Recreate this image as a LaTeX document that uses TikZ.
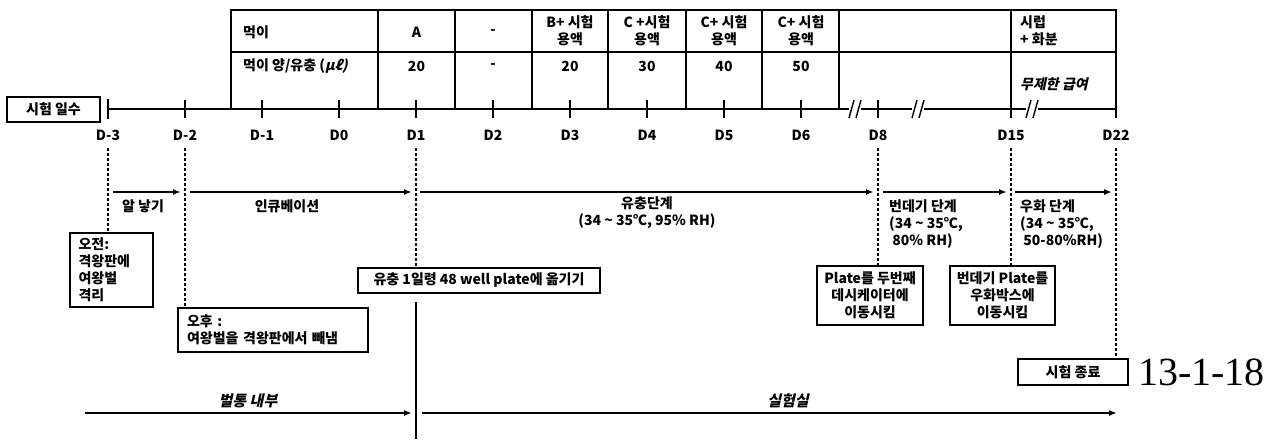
\documentclass[tikz,border=0pt]{standalone}
\usepackage{fontspec}
\setmainfont{Noto Sans CJK KR}
\newfontfamily\kit{Noto Sans CJK KR}[FakeSlant=0.22]
\newfontfamily\numfont{Liberation Serif}
\usetikzlibrary{arrows.meta}
\newcommand\kf{\bfseries\fontsize{14}{17}\selectfont}
\tikzset{
  ln/.style={line width=1.6pt},
  dsh/.style={line width=1.3pt, dash pattern=on 3pt off 2pt},
  arr/.style={line width=1.6pt, -{Latex[length=8pt,width=6pt]}},
  box/.style={draw, line width=1.6pt, inner sep=3pt, font=\kf},
  txt/.style={inner sep=0pt, font=\kf},
  tk/.style={line width=1.6pt},
}
\begin{document}
\begin{tikzpicture}[x=1pt,y=-1pt]
\useasboundingbox (0,0) rectangle (1281,439);
\fill[white] (0,0) rectangle (1281,439);
% timeline coordinates
\foreach \n/\x in {m3/108,m2/185,m1/262,d0/339,d1/416,d2/493,d3/570,d4/647,d5/724,d6/801,d8/878,d15/1011,d22/1116}{
  \coordinate (t\n) at (\x,109);
  \coordinate (u\n) at (\x,148);
  \coordinate (p\n) at (\x,135);
}
% table
\draw[ln] (231,109) -- (231,10) -- (1116,10) -- (1116,109);
\draw[ln] (231,52) -- (1116,52);
\foreach \x in {378,455,532,608,686,762,839,1011}{\draw[ln] (\x,10) -- (\x,109);}
\node[txt,anchor=west] (h1) at (243,32) {먹이};
\node[txt] (c1) at (416.5,32) {A};
\node[txt] (c2) at (493,32) {-};
\node[txt,align=center] (c3) at (570,31) {B+ 시험\\용액};
\node[txt,align=center] (c4) at (647,31) {C +시험\\용액};
\node[txt,align=center] (c5) at (724,31) {C+ 시험\\용액};
\node[txt,align=center] (c6) at (801,31) {C+ 시험\\용액};
\node[txt,align=left,anchor=west] (c7) at (1020,31) {시럽\\+ 화분};
\node[txt,anchor=west] (h2) at (243,66) {먹이 양/유충 (\kit μℓ)};
\node[txt] (v1) at (416.5,66) {20};
\node[txt] (v2) at (493,66) {-};
\node[txt] (v3) at (570,66) {20};
\node[txt] (v4) at (647,66) {30};
\node[txt] (v5) at (724,66) {40};
\node[txt] (v6) at (801,66) {50};
\node[txt,anchor=west,font=\kit\kf] (v7) at (1020,84) {무제한 급여};
% timeline
\draw[ln] (tm3) -- (td22);
\draw[line width=2.6pt] (108,99) -- (108,119);
\foreach \n in {m2,m1,d0,d1,d2,d3,d4,d5,d6,d8,d15,d22}{\draw[tk] ([yshift=-9pt]t\n) -- ([yshift=9pt]t\n);}
% break marks
\foreach \x in {855,918,1032}{
  \fill[white] (\x-6,106) rectangle (\x+6,112);
  \draw[line width=1.4pt] (\x-6,118) -- (\x-1,100);
  \draw[line width=1.4pt] (\x+1,118) -- (\x+6,100);
}
% day labels
\foreach \n/\l in {m3/D-3,m2/D-2,m1/D-1,d0/D0,d1/D1,d2/D2,d3/D3,d4/D4,d5/D5,d6/D6,d8/D8,d15/D15,d22/D22}{
  \node[txt] (l\n) at (p\n) {\l};
}
\node[box,minimum width=93pt,minimum height=25pt] (days) at (53.5,109.5) {시험 일수};
% boxes
\node[box,minimum width=83pt,minimum height=74pt,text width=66pt,align=left] (am) at (111.5,270) {오전:\\격왕판에\\여왕벌\\격리};
\node[box,minimum width=190pt,minimum height=44pt,text width=172pt,align=left] (pm) at (273,330) {오후 :\\여왕벌을 격왕판에서 빼냄};
\node[box,minimum width=242pt,minimum height=25pt] (move) at (479,280.5) {유충 1일령 48 well plate에 옮기기};
\node[box,minimum width=106pt,minimum height=59pt,align=center] (plate) at (870,295.5) {Plate를 두번째\\데시케이터에\\이동시킴};
\node[box,minimum width=105pt,minimum height=59pt,align=center] (pupa) at (1002.5,295.5) {번데기 Plate를\\우화박스에\\이동시킴};
\node[box,minimum width=110pt,minimum height=26pt] (end) at (1073,372) {시험 종료};
\node[inner sep=0pt,anchor=west,font=\numfont\fontsize{40}{40}\selectfont] (date) at (1138,372) {13-1-18};
% dashed verticals
\draw[dsh] (um3) -- (am.north -| um3);
\draw[dsh] (um2) -- (pm.north -| um2);
\draw[dsh] (ud1) -- (move.north -| ud1);
\draw[dsh] (ud8) -- (plate.north -| ud8);
\draw[dsh] (ud15) -- (pupa.north -| ud15);
\draw[dsh] (ud22) -- (end.north -| ud22);
\coordinate (dtop) at (416,302);
\coordinate (dbot) at (416,439);
\draw[ln] (dtop) -- (dbot);
% stage arrows
\coordinate (a1s) at (113,192); \coordinate (a1e) at (181,192);
\coordinate (a2s) at (190,192); \coordinate (a2e) at (412,192);
\coordinate (a3s) at (420,192); \coordinate (a3e) at (874,192);
\coordinate (a4s) at (883,192); \coordinate (a4e) at (1007,192);
\coordinate (a5s) at (1015,192); \coordinate (a5e) at (1112,192);
\draw[arr] (a1s) -- (a1e);
\draw[arr] (a2s) -- (a2e);
\draw[arr] (a3s) -- (a3e);
\draw[arr] (a4s) -- (a4e);
\draw[arr] (a5s) -- (a5e);
\node[txt] (s1) at (143,206) {알 낳기};
\node[txt] (s2) at (287,206) {인큐베이션};
\node[txt,align=center] (s3) at (647,213) {유충단계\\(34 \textasciitilde{} 35℃, 95\% RH)};
\node[txt,align=left,anchor=north west] (s4) at (889,199) {번데기 단계\\(34 \textasciitilde{} 35℃,\\\ 80\% RH)};
\node[txt,align=left,anchor=north west] (s5) at (1020,199) {우화 단계\\(34 \textasciitilde{} 35℃,\\\ 50-80\%RH)};
% location arrows
\coordinate (b1s) at (85,413); \coordinate (b1e) at (412,413);
\coordinate (b2s) at (422,413); \coordinate (b2e) at (1117,413);
\draw[arr] (b1s) -- (b1e);
\draw[arr] (b2s) -- (b2e);
\node[txt,font=\kit\bfseries\fontsize{15}{16}\selectfont] (hive) at (248,401) {벌통 내부};
\node[txt,font=\kit\bfseries\fontsize{15}{16}\selectfont] (lab) at (788,401) {실험실};
\end{tikzpicture}
\end{document}
